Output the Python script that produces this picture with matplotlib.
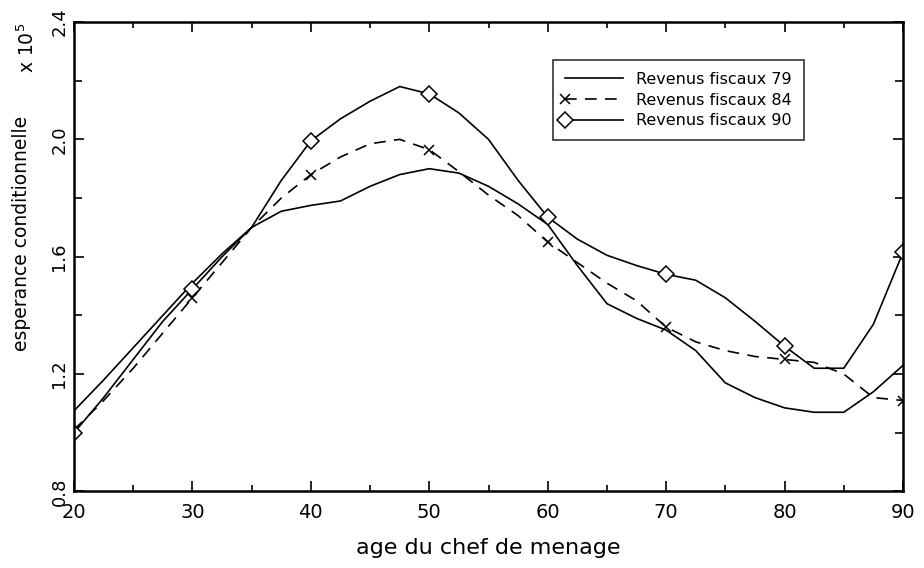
import matplotlib
matplotlib.use("Agg")
import matplotlib.pyplot as plt
from matplotlib.legend_handler import HandlerLine2D
from matplotlib.lines import Line2D
from matplotlib.ticker import MultipleLocator

# ---- data ----
ages = [20, 22.5, 25, 27.5, 30, 32.5, 35, 37.5, 40, 42.5, 45, 47.5, 50, 52.5, 55,
        57.5, 60, 62.5, 65, 67.5, 70, 72.5, 75, 77.5, 80, 82.5, 85, 87.5, 90]
rev79 = [1.075, 1.18, 1.29, 1.40, 1.51, 1.61, 1.70, 1.755, 1.775, 1.79, 1.84, 1.88, 1.90,
         1.885, 1.84, 1.78, 1.71, 1.57, 1.44, 1.39, 1.35, 1.28, 1.17, 1.12, 1.085,
         1.07, 1.07, 1.14, 1.23]
rev84 = [1.01, 1.11, 1.22, 1.34, 1.46, 1.58, 1.70, 1.80, 1.88, 1.94, 1.985, 2.00, 1.965,
         1.89, 1.81, 1.74, 1.65, 1.58, 1.51, 1.45, 1.36, 1.31, 1.28, 1.26, 1.25,
         1.24, 1.20, 1.12, 1.11]
rev90 = [1.00, 1.12, 1.25, 1.38, 1.49, 1.60, 1.70, 1.86, 1.995, 2.07, 2.13, 2.18, 2.155,
         2.09, 2.00, 1.86, 1.735, 1.66, 1.605, 1.57, 1.54, 1.52, 1.46, 1.38, 1.295,
         1.22, 1.22, 1.37, 1.615]
labels = ["Revenus fiscaux 79", "Revenus fiscaux 84", "Revenus fiscaux 90"]
xticks = [20, 30, 40, 50, 60, 70, 80, 90]
yticks = [0.8, 1.2, 1.6, 2.0, 2.4]

plt.rcParams['font.family'] = ['DejaVu Sans']

fig = plt.figure(figsize=(9.24, 5.68), dpi=100)
ax = fig.add_axes([0.0801, 0.1347, 0.8972, 0.8266])

marker_idx = [i for i, a in enumerate(ages) if a % 10 == 0]

l79, = ax.plot(ages, rev79, color='black', lw=1.2, label=labels[0])
l84, = ax.plot(ages, rev84, color='black', lw=1.2, linestyle=(0, (7, 5)),
               marker='x', ms=7, mew=1.1, markevery=marker_idx, label=labels[1])
l90, = ax.plot(ages, rev90, color='black', lw=1.2, marker='D', ms=8,
               mfc='white', mec='black', mew=1.1, markevery=marker_idx, label=labels[2])

ax.set_xlim(20, 90)
ax.set_ylim(0.8, 2.4)
ax.set_xticks(xticks)
ax.xaxis.set_minor_locator(MultipleLocator(5))
ax.set_yticks(yticks)
ax.yaxis.set_minor_locator(MultipleLocator(0.2))
ax.set_xticklabels([str(t) for t in xticks], fontsize=14)
ax.set_yticklabels([f"{t:.1f}" for t in yticks], fontsize=13, rotation=90, va='center')
ax.tick_params(which='major', direction='in', length=7, width=1.2, top=True, right=True)
ax.tick_params(which='minor', direction='in', length=6, width=1.2, top=True, right=True)
ax.tick_params(axis='x', which='minor', length=4)
ax.tick_params(axis='x', which='major', pad=8)
ax.tick_params(axis='y', which='major', pad=4)
for s in ax.spines.values():
    s.set_linewidth(1.8)

ax.set_xlabel("age du chef de menage", fontsize=16, labelpad=12)
ax.set_ylabel("esperance conditionnelle", fontsize=13.5)
ax.yaxis.set_label_coords(-0.052, 0.55)
fig.text(0.030, 0.915, r"x 10$^5$", rotation=90, fontsize=13.5, ha='center', va='center')


class LeftMarkerHandler(HandlerLine2D):
    def create_artists(self, legend, orig_handle, xdescent, ydescent, width, height,
                       fontsize, trans):
        arts = super().create_artists(legend, orig_handle, xdescent, ydescent, width,
                                      height, fontsize, trans)
        for a in arts:
            if isinstance(a, Line2D) and a.get_marker() not in (None, 'None', '', ' '):
                a.set_markevery([0])
        return arts


leg = ax.legend(handles=[l79, l84, l90], loc='upper left', bbox_to_anchor=(0.578, 0.919),
                fontsize=11.5, handlelength=3.6, handletextpad=0.85, numpoints=1,
                frameon=True, fancybox=False, edgecolor='black', borderpad=0.75,
                borderaxespad=0, labelspacing=0.35,
                handler_map={Line2D: LeftMarkerHandler()})
leg.get_frame().set_linewidth(1.2)

fig.savefig("out.png", dpi=100)
